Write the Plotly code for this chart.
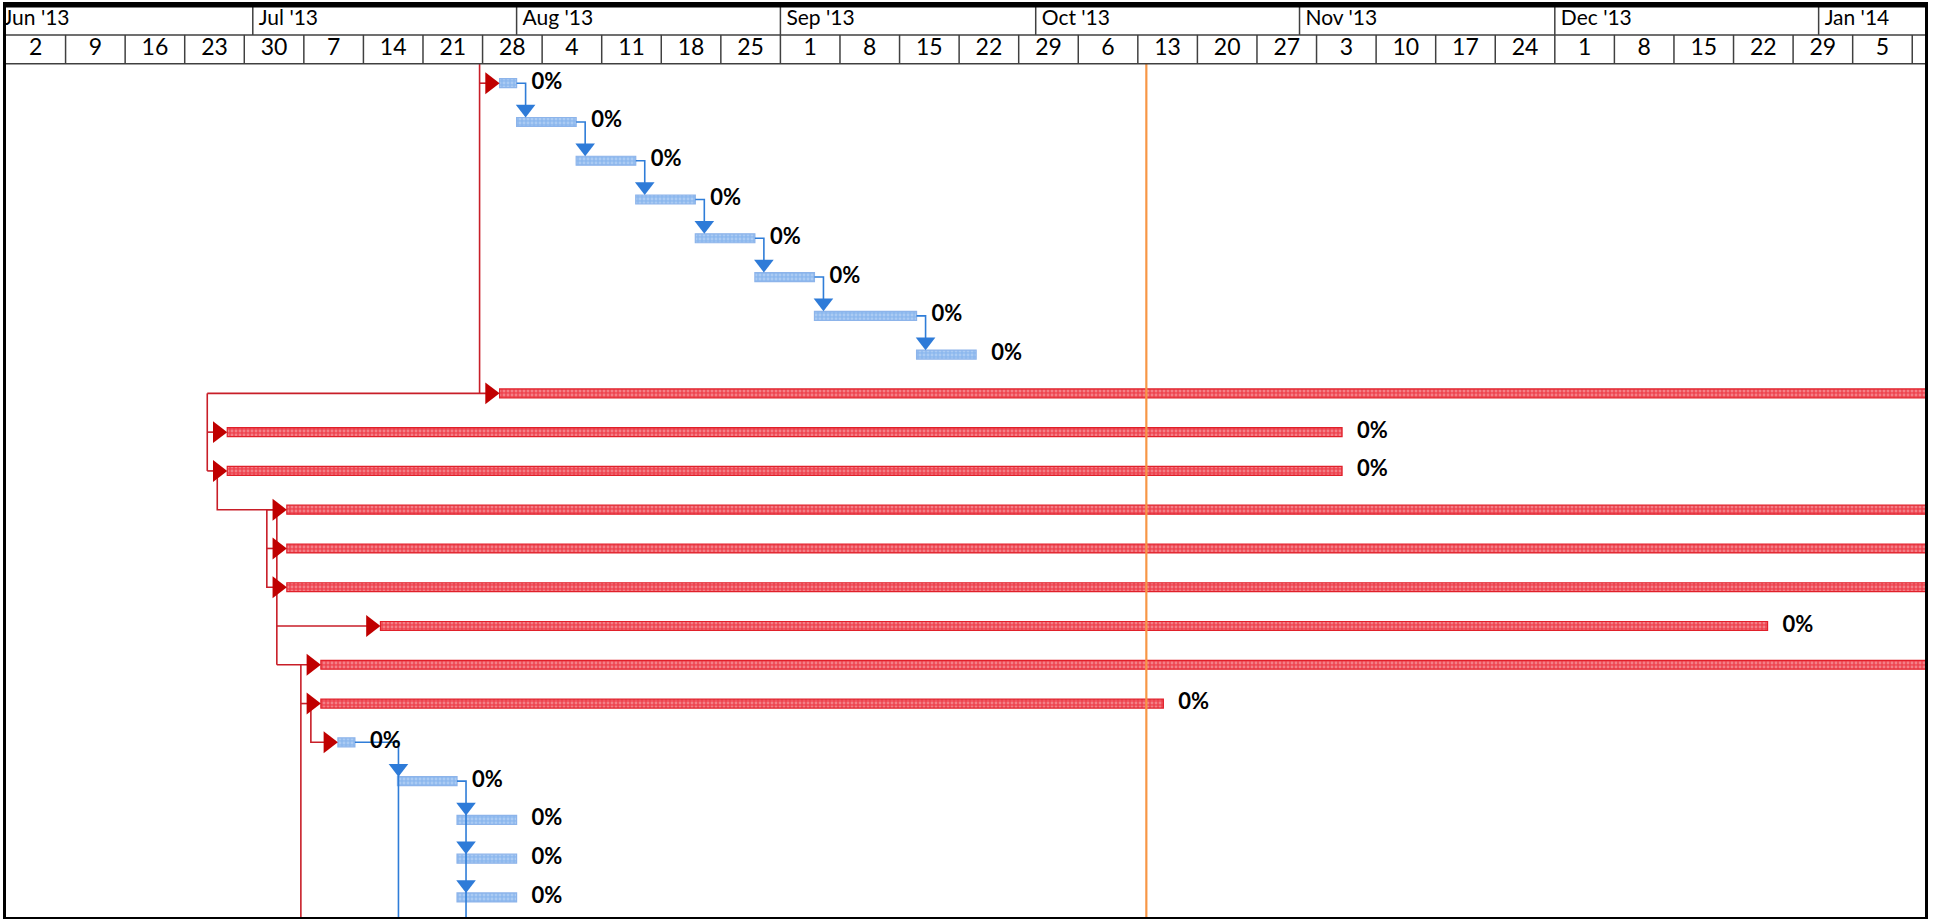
import plotly.graph_objects as go
import pandas as pd

# ---------------- data ----------------
task_start = [
    "2013-07-30", "2013-08-01", "2013-08-08", "2013-08-15", "2013-08-22",
    "2013-08-29", "2013-09-05", "2013-09-17", "2013-07-30", "2013-06-28",
    "2013-06-28", "2013-07-05", "2013-07-05", "2013-07-05", "2013-07-16",
    "2013-07-09", "2013-07-09", "2013-07-11", "2013-07-18", "2013-07-25",
    "2013-07-25", "2013-07-25",
]
task_end = [
    "2013-08-01", "2013-08-08", "2013-08-15", "2013-08-22", "2013-08-29",
    "2013-09-05", "2013-09-17", "2013-09-24", "2014-03-31", "2013-11-06",
    "2013-11-06", "2014-03-31", "2014-03-31", "2014-03-31", "2013-12-26",
    "2014-03-31", "2013-10-16", "2013-07-13", "2013-07-25", "2013-08-01",
    "2013-08-01", "2013-08-01",
]
task_critical = [
    False, False, False, False, False, False, False, False, True, True,
    True, True, True, True, True, True, True, False, False, False,
    False, False,
]
task_complete = ["0%"] * 22
status_date = "2013-10-14"

month_labels = ["Jun '13", "Jul '13", "Aug '13", "Sep '13", "Oct '13",
                "Nov '13", "Dec '13", "Jan '14"]
month_starts = pd.date_range("2013-06-01", "2014-01-01", freq="MS")
week_starts = pd.date_range("2013-06-02", "2014-01-12", freq="7D")
week_labels = [str(d.day) for d in week_starts]

# ---------------- layout constants ----------------
FIG_W, FIG_H = 1934, 919
M_L, M_R, M_T, M_B = 6, 9, 2, 2
X_START = pd.Timestamp("2013-06-02")
X_END = pd.Timestamp("2014-01-13 12:00")
PLOT_W = FIG_W - M_L - M_R
PLOT_H = FIG_H - M_T - M_B
PX_PER_DAY = PLOT_W / ((X_END - X_START) / pd.Timedelta(days=1))
ROW_PX = 38.9
HEADER_PX = 59
DAYROW_PX = 29
Y_TOP = -0.5 - HEADER_PX / ROW_PX
Y_BOT = Y_TOP + PLOT_H / ROW_PX
Y_SEP = -0.5 - DAYROW_PX / ROW_PX
BAR_PX = 9
RED_TRI = 19
BLUE_TRI = 17

RED_LINE = "#C81E28"
RED_TRI_C = "#C00000"
BLUE_LINE = "#2F7DD8"
BLUE_TRI_C = "#2E7BD8"
FONT = "Lato, Carlito, Calibri, sans-serif"


def dx(ts, px):
    return pd.Timestamp(ts) + pd.Timedelta(days=px / PX_PER_DAY)


def dy(px):
    return px / ROW_PX


starts = [pd.Timestamp(s) for s in task_start]
ends = [pd.Timestamp(e) for e in task_end]
n = len(starts)

fig = go.Figure()

# ---------------- bars ----------------
def bar_trace(idx, fill, fg, edge):
    return go.Bar(
        orientation="h",
        y=idx,
        base=[starts[i] for i in idx],
        x=[(ends[i] - starts[i]).total_seconds() * 1000 for i in idx],
        width=BAR_PX / ROW_PX,
        marker=dict(color=fill, line=dict(color=edge, width=1.2),
                    pattern=dict(shape=".", fgcolor=fg, size=4, solidity=0.4)),
        hoverinfo="skip",
    )

blue_idx = [i for i in range(n) if not task_critical[i]]
red_idx = [i for i in range(n) if task_critical[i]]
fig.add_trace(bar_trace(blue_idx, "#8DB8EE", "#C9DDF7", "#8DB4EA"))
fig.add_trace(bar_trace(red_idx, "#EE4550", "#F8BCC0", "#E0202A"))

# ---------------- connectors ----------------
def add_poly(store, pts):
    for x, y in pts:
        store[0].append(x)
        store[1].append(y)
    store[0].append(None)
    store[1].append(None)

red = ([], [])
blue = ([], [])
r_r = RED_TRI / 2
r_b = BLUE_TRI / 2


def red_tip_center(i):
    return dx(starts[i], -r_r)

A = dx(starts[0], -20)
B = dx(starts[9], -20)
C = dx(starts[9], -10)
D = dx(starts[11], -10)
E = dx(starts[11], -20)
F = dx(starts[15], -20)
G = dx(starts[15], -10)

add_poly(red, [(A, -0.5), (A, 8)])
add_poly(red, [(A, 0), (red_tip_center(0), 0)])
add_poly(red, [(B, 8), (red_tip_center(8), 8)])
add_poly(red, [(B, 8), (B, 10)])
add_poly(red, [(B, 9), (red_tip_center(9), 9)])
add_poly(red, [(B, 10), (red_tip_center(10), 10)])
add_poly(red, [(C, 10), (C, 11), (D, 11)])
add_poly(red, [(D, 11), (D, 15)])
add_poly(red, [(D, 11), (E, 11), (E, 13), (D, 13)])
add_poly(red, [(E, 12), (D, 12)])
add_poly(red, [(D, 14), (red_tip_center(14), 14)])
add_poly(red, [(D, 15), (red_tip_center(15), 15)])
add_poly(red, [(F, 15), (F, Y_BOT)])
add_poly(red, [(F, 16), (red_tip_center(16), 16)])
add_poly(red, [(G, 16), (G, 17), (red_tip_center(17), 17)])

red_targets = [0, 8, 9, 10, 11, 12, 13, 14, 15, 16, 17]

blue_tri_x, blue_tri_y = [], []


def blue_tip_y(row):
    return row - dy(BAR_PX / 2 + r_b)

for i in range(0, 7):
    X = dx(ends[i], 9)
    add_poly(blue, [(ends[i], i), (X, i), (X, blue_tip_y(i + 1))])
    blue_tri_x.append(X)
    blue_tri_y.append(blue_tip_y(i + 1))

X17 = dx(starts[18], 1)
add_poly(blue, [(ends[17], 17), (X17, 17), (X17, Y_BOT)])
blue_tri_x.append(X17)
blue_tri_y.append(blue_tip_y(18))

X18 = dx(ends[18], 9)
add_poly(blue, [(ends[18], 18), (X18, 18), (X18, Y_BOT)])
for r in (19, 20, 21):
    blue_tri_x.append(X18)
    blue_tri_y.append(blue_tip_y(r))

fig.add_trace(go.Scatter(x=red[0], y=red[1], mode="lines",
                         line=dict(color=RED_LINE, width=1.6), hoverinfo="skip"))
fig.add_trace(go.Scatter(x=blue[0], y=blue[1], mode="lines",
                         line=dict(color=BLUE_LINE, width=1.6), hoverinfo="skip"))
fig.add_trace(go.Scatter(
    x=[red_tip_center(i) for i in red_targets], y=red_targets, mode="markers",
    marker=dict(symbol="triangle-right", size=RED_TRI, color=RED_TRI_C,
                line=dict(width=0)), hoverinfo="skip"))
fig.add_trace(go.Scatter(
    x=blue_tri_x, y=blue_tri_y, mode="markers",
    marker=dict(symbol="triangle-down", size=BLUE_TRI, color=BLUE_TRI_C,
                line=dict(width=0)), hoverinfo="skip"))

# status line
fig.add_trace(go.Scatter(x=[status_date, status_date], y=[-0.5, Y_BOT], mode="lines",
                         line=dict(color="#F79646", width=2.2), hoverinfo="skip"))

# percent labels (only for bars that finish inside the visible timescale)
lab_idx = [i for i in range(n) if dx(ends[i], 60) < X_END]
fig.add_trace(go.Scatter(
    x=[dx(ends[i], 15) for i in lab_idx], y=lab_idx, mode="text",
    text=[task_complete[i] for i in lab_idx], textposition="middle right",
    textfont=dict(family=FONT, size=22, color="black", weight="bold"),
    cliponaxis=True, hoverinfo="skip"))

# ---------------- header ----------------
shapes = []
hdr_line = dict(color="#404040", width=1.5)
shapes.append(dict(type="line", xref="paper", yref="y", x0=0, x1=1, y0=Y_SEP, y1=Y_SEP, line=hdr_line))
shapes.append(dict(type="line", xref="paper", yref="y", x0=0, x1=1, y0=-0.5, y1=-0.5, line=hdr_line))
for m in month_starts[1:]:
    shapes.append(dict(type="line", xref="x", yref="y", x0=m, x1=m, y0=Y_TOP, y1=Y_SEP, line=hdr_line))
for w in week_starts[1:]:
    shapes.append(dict(type="line", xref="x", yref="y", x0=w, x1=w, y0=Y_SEP, y1=-0.5, line=hdr_line))
shapes.append(dict(type="line", xref="paper", yref="paper", x0=0, x1=1, y0=1, y1=1,
                   line=dict(color="black", width=5)))

fig.add_trace(go.Scatter(
    x=[dx(m, 6) for m in month_starts], y=[(Y_TOP + Y_SEP) / 2] * len(month_starts),
    mode="text", text=month_labels, textposition="middle right",
    textfont=dict(family=FONT, size=21, color="black"), cliponaxis=True, hoverinfo="skip"))

wk_centers = [w + pd.Timedelta(hours=84) for w in week_starts]
wk_idx = [k for k, c in enumerate(wk_centers) if c < X_END]
fig.add_trace(go.Scatter(
    x=[wk_centers[k] for k in wk_idx], y=[(Y_SEP - 0.5) / 2] * len(wk_idx),
    mode="text", text=[week_labels[k] for k in wk_idx], textposition="middle center",
    textfont=dict(family=FONT, size=23, color="black"), cliponaxis=True, hoverinfo="skip"))

fig.update_layout(
    width=FIG_W, height=FIG_H,
    margin=dict(l=M_L, r=M_R, t=M_T, b=M_B, pad=0),
    plot_bgcolor="white", paper_bgcolor="white",
    showlegend=False, barmode="overlay", shapes=shapes,
    xaxis=dict(type="date", range=[X_START, X_END], showgrid=False, zeroline=False,
               showticklabels=False, ticks="", showline=True, mirror=True,
               linecolor="black", linewidth=3),
    yaxis=dict(range=[Y_BOT, Y_TOP], showgrid=False, zeroline=False,
               showticklabels=False, ticks="", showline=True, mirror=True,
               linecolor="black", linewidth=3),
)

fig.write_html(
    "out.html",
    config={"displayModeBar": False},
    post_script="document.body.style.margin='0px';document.body.style.padding='0px';"
                "document.body.style.overflow='hidden';",
)
